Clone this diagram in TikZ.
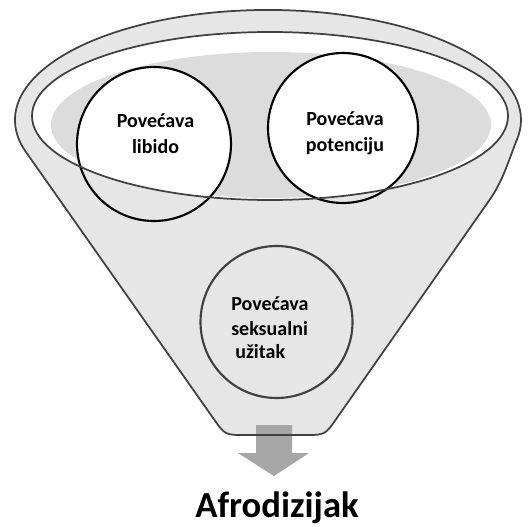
\documentclass[tikz,border=0pt]{standalone}
\usepackage{fontspec}
\setmainfont{Carlito}
\definecolor{funnelgray}{HTML}{E6E6E6}
\definecolor{innergray}{HTML}{DCDCDC}
\definecolor{outline}{HTML}{404040}
\definecolor{arrowgray}{HTML}{A6A6A6}
\begin{document}
\begin{tikzpicture}[x=0.75pt,y=0.75pt,
  rimline/.style={draw=outline, line width=1.3pt},
  bubble/.style={circle, draw=black, line width=1.6pt, inner sep=0pt},
  bubbletxt/.style={font=\bfseries\fontsize{15}{18.5}\selectfont, inner sep=0pt},
  titletxt/.style={font=\bfseries\fontsize{27.5}{30}\selectfont, inner sep=0pt, anchor=base}
 ]
\useasboundingbox (0,0) rectangle (529,526);
\def\funnelpath{(26.3,373.5) arc[start angle=197.2, end angle=-10, x radius=253, y radius=110] .. controls (509,367) and (503.5,346) .. (489.5,326) -- (336.5,107.4) .. controls (325,91) .. (305,91) -- (245,91) .. controls (225,91) .. (213.5,107.4) -- cycle}
% funnel body
\fill[funnelgray] \funnelpath;
% arrow
\fill[arrowgray] (256,101) -- (292,101) -- (292,73) -- (309,73) -- (274,50) -- (238,73) -- (256,73) -- cycle;
\draw[rimline] \funnelpath;
% rim interior
\fill[white] (270,410) ellipse[x radius=238, y radius=84];
\begin{scope}
  \clip (270,410) ellipse[x radius=238, y radius=84];
  \fill[innergray] (271,401) ellipse[x radius=220, y radius=73];
  \fill[white] (154,382) circle[radius=77];
  \fill[white] (343,398) circle[radius=75];
\end{scope}
% circles
\node[bubble, minimum size=115.5pt] (c1) at (154,382) {};
\node[bubble, minimum size=112.5pt] (c2) at (343,398) {};
\draw[rimline] (270,410) ellipse[x radius=238, y radius=84];
\node[bubble, draw=outline, fill=funnelgray, minimum size=114pt] (c3) at (276.5,204) {};
% texts
\node[bubbletxt, anchor=base] (t1a) at (155.5,398) {Povećava};
\node[bubbletxt, anchor=base] (t1b) at (155.5,373) {libido};
\node[bubbletxt, anchor=base] (t2a) at (345,400) {Povećava};
\node[bubbletxt, anchor=base] (t2b) at (345,374) {potenciju};
\node[bubbletxt, anchor=base west] (t3a) at (231,216) {Povećava};
\node[bubbletxt, anchor=base west] (t3b) at (231,191) {seksualni};
\node[bubbletxt, anchor=base west] (t3c) at (235,168) {užitak};
\node[titletxt] (title) at (277,9) {Afrodizijak};
\end{tikzpicture}
\end{document}
